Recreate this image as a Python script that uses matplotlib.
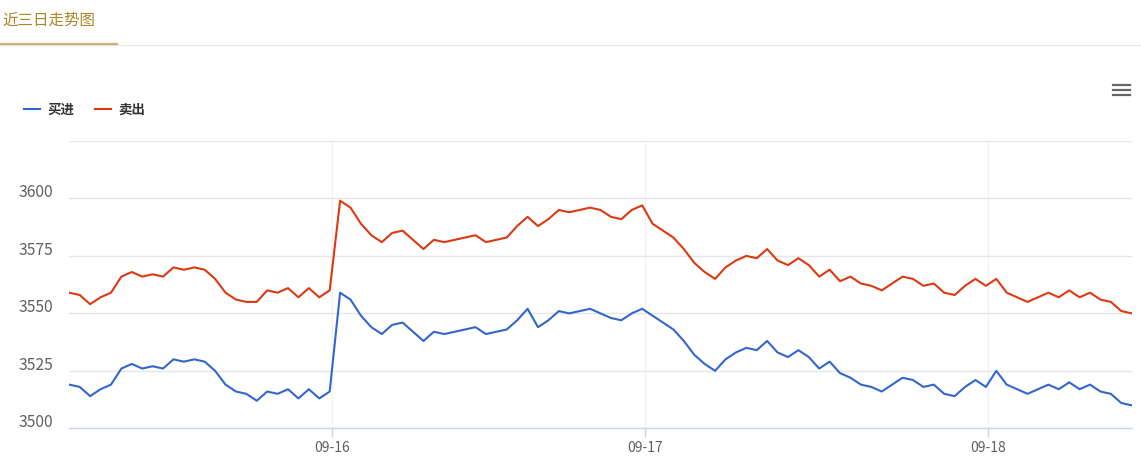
import matplotlib
matplotlib.use("Agg")
import matplotlib.pyplot as plt
import matplotlib.transforms as mtransforms
from matplotlib.lines import Line2D
import numpy as np

plt.rcParams['font.family'] = ['Noto Sans CJK SC', 'DejaVu Sans']

# data (one point per sample, ordinal x axis)
buy = [3519, 3518, 3514, 3517, 3519, 3526, 3528, 3526, 3527, 3526,
       3530, 3529, 3530, 3529, 3525, 3519, 3516, 3515, 3512, 3516,
       3515, 3517, 3513, 3517, 3513, 3516, 3559, 3556, 3549, 3544,
       3541, 3545, 3546, 3542, 3538, 3542, 3541, 3542, 3543, 3544,
       3541, 3542, 3543, 3547, 3552, 3544, 3547, 3551, 3550, 3551,
       3552, 3550, 3548, 3547, 3550, 3552, 3549, 3546, 3543, 3538,
       3532, 3528, 3525, 3530, 3533, 3535, 3534, 3538, 3533, 3531,
       3534, 3531, 3526, 3529, 3524, 3522, 3519, 3518, 3516, 3519,
       3522, 3521, 3518, 3519, 3515, 3514, 3518, 3521, 3518, 3525,
       3519, 3517, 3515, 3517, 3519, 3517, 3520, 3517, 3519, 3516,
       3515, 3511, 3510]
sell = [3559, 3558, 3554, 3557, 3559, 3566, 3568, 3566, 3567, 3566,
        3570, 3569, 3570, 3569, 3565, 3559, 3556, 3555, 3555, 3560,
        3559, 3561, 3557, 3561, 3557, 3560, 3599, 3596, 3589, 3584,
        3581, 3585, 3586, 3582, 3578, 3582, 3581, 3582, 3583, 3584,
        3581, 3582, 3583, 3588, 3592, 3588, 3591, 3595, 3594, 3595,
        3596, 3595, 3592, 3591, 3595, 3597, 3589, 3586, 3583, 3578,
        3572, 3568, 3565, 3570, 3573, 3575, 3574, 3578, 3573, 3571,
        3574, 3571, 3566, 3569, 3564, 3566, 3563, 3562, 3560, 3563,
        3566, 3565, 3562, 3563, 3559, 3558, 3562, 3565, 3562, 3565,
        3559, 3557, 3555, 3557, 3559, 3557, 3560, 3557, 3559, 3556,
        3555, 3551, 3550]
day_ticks = [25.25, 55.3, 88.23]
day_labels = ['09-16', '09-17', '09-18']
y_ticks = [3500, 3525, 3550, 3575, 3600, 3625]
y_labels = ['3500', '3525', '3550', '3575', '3600', '']

BLUE = '#3366cc'
RED = '#dc3912'

W, H = 1141, 457
fig = plt.figure(figsize=(W / 100, H / 100), dpi=100)

def fx(px):
    return px / W

def fy(py):
    return 1 - py / H

ax = fig.add_axes([fx(69.3), fy(428.3), fx(1131.7) - fx(69.3), fy(141) - fy(428.3)])

x = np.arange(len(buy))
ax.plot(x, buy, color=BLUE, linewidth=1.5, solid_joinstyle='round')
ax.plot(x, sell, color=RED, linewidth=1.5, solid_joinstyle='round')

ax.set_xlim(0, len(buy) - 1)
ax.set_ylim(3500, 3625)

# grid
ax.set_yticks(y_ticks)
ax.set_yticklabels(y_labels)
ax.set_xticks(day_ticks)
ax.set_xticklabels(day_labels)
ax.grid(axis='y', color='#e6e6e6', linewidth=1)
ax.grid(axis='x', color='#f2f2f2', linewidth=1)
ax.set_axisbelow(True)
for s in ['top', 'right', 'left']:
    ax.spines[s].set_visible(False)
ax.spines['bottom'].set_color('#ccd6eb')
ax.spines['bottom'].set_linewidth(1)

ax.tick_params(axis='y', length=0, pad=11.5, labelsize=11.3, labelcolor='#606060')
ax.tick_params(axis='x', length=6.5, width=1, color='#ccd6eb', pad=3,
               labelsize=10, labelcolor='#606060')

offset = mtransforms.ScaledTranslation(0, 7.6 / 100, fig.dpi_scale_trans)
for lab in ax.get_yticklabels():
    lab.set_transform(lab.get_transform() + offset)

# title tab
fig.text(fx(2.5), fy(20), '近三日走势图', fontsize=11.2, color='#a8862a', va='center', ha='left')
fig.add_artist(Line2D([fx(0), fx(W)], [fy(45), fy(45)], color='#e6e6e6', linewidth=0.8))
fig.add_artist(Line2D([fx(0), fx(117)], [fy(43.7), fy(43.7)], color='#cfb272', linewidth=1.6))

# menu icon
for yy in [85.2, 90.3, 95.0]:
    fig.add_artist(Line2D([fx(1112.5), fx(1129.5)], [fy(yy), fy(yy)], color='#666666', linewidth=1.6))

# legend
fig.add_artist(Line2D([fx(24), fx(40)], [fy(109.5), fy(109.5)], color=BLUE, linewidth=1.5))
fig.text(fx(47.5), fy(109.5), '买进', fontsize=9.7, fontweight='bold', color='#333333', va='center')
fig.add_artist(Line2D([fx(95), fx(111)], [fy(109.5), fy(109.5)], color=RED, linewidth=1.5))
fig.text(fx(118), fy(109.5), '卖出', fontsize=9.7, fontweight='bold', color='#333333', va='center')

fig.savefig('out.png', dpi=100)
